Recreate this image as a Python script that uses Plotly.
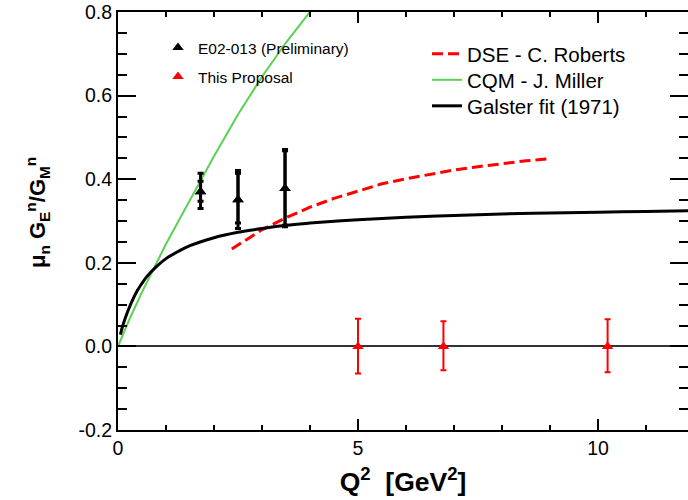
import plotly.graph_objects as go

# ---------------- data ----------------
galster_q2 = [0.05, 0.1, 0.2, 0.3, 0.4, 0.5, 0.6, 0.8, 1.0, 1.25, 1.5, 2.0, 2.5,
              3.0, 3.5, 4.0, 5.0, 6.0, 7.0, 8.0, 9.0, 10.0, 11.0, 12.0]
galster_val = [0.028, 0.05, 0.083, 0.110, 0.133, 0.151, 0.167, 0.191, 0.210, 0.227,
               0.241, 0.260, 0.273, 0.282, 0.290, 0.295, 0.303, 0.309, 0.313, 0.317,
               0.319, 0.321, 0.323, 0.325]

cqm_q2 = [0.0, 0.25, 0.5, 0.8, 1.0, 1.5, 2.0, 2.5, 3.0, 3.5, 4.0, 4.1]
cqm_val = [0.0, 0.068, 0.13, 0.2, 0.245, 0.35, 0.455, 0.555, 0.645, 0.727, 0.8, 0.815]

dse_q2 = [2.37, 2.75, 3.0, 3.5, 4.0, 4.5, 5.0, 5.5, 6.0, 6.5, 7.0, 7.5, 8.0, 8.5, 9.0]
dse_val = [0.233, 0.262, 0.279, 0.308, 0.333, 0.354, 0.372, 0.389, 0.401, 0.412,
           0.422, 0.430, 0.437, 0.444, 0.449]

e02_q2 = [1.72, 2.5, 3.48]
e02_val = [0.37, 0.351, 0.378]
e02_tot_up = [0.044, 0.07, 0.093]
e02_tot_dn = [0.040, 0.069, 0.092]
e02_stat_up = [0.025, 0.063, 0.09]
e02_stat_dn = [0.023, 0.056, 0.088]

prop_q2 = [5.0, 6.78, 10.2]
prop_val = [0.0, 0.0, 0.0]
prop_err_up = [0.066, 0.060, 0.065]
prop_err_dn = [0.065, 0.057, 0.062]

x_tickvals = [0, 5, 10]
x_ticktext = ["0", "5", "10"]
y_tickvals = [-0.2, 0.0, 0.2, 0.4, 0.6, 0.8]
y_ticktext = ["-0.2", "0.0", "0.2", "0.4", "0.6", "0.8"]

FONT = "Liberation Sans, Arial, Helvetica, sans-serif"

# plot area in page pixels
PX0, PX1, PY0, PY1 = 118, 688, 12, 430


def px(x):
    return (x - PX0) / (PX1 - PX0)


def py(y):
    return (PY1 - y) / (PY1 - PY0)


fig = go.Figure()

fig.add_trace(go.Scatter(x=dse_q2, y=dse_val, mode="lines", name="DSE - C. Roberts",
                         line=dict(color="#ff0000", width=3, dash="11px,5px"),
                         legend="legend3"))
fig.add_trace(go.Scatter(x=cqm_q2, y=cqm_val, mode="lines", name="CQM - J. Miller",
                         line=dict(color="#5bd152", width=2), legend="legend4"))
fig.add_trace(go.Scatter(x=galster_q2, y=galster_val, mode="lines", name="Galster fit (1971)",
                         line=dict(color="black", width=3, shape="spline"), legend="legend5"))

# E02-013 total errors
fig.add_trace(go.Scatter(x=e02_q2, y=e02_val, mode="markers", showlegend=False,
                         marker=dict(symbol="triangle-up", size=10, color="black"),
                         error_y=dict(type="data", symmetric=False, array=e02_tot_up,
                                      arrayminus=e02_tot_dn, color="black",
                                      thickness=3, width=3)))
# E02-013 statistical errors
fig.add_trace(go.Scatter(x=e02_q2, y=e02_val, mode="markers", name="E02-013 (Preliminary)",
                         legend="legend",
                         marker=dict(symbol="triangle-up", size=10, color="black"),
                         error_y=dict(type="data", symmetric=False, array=e02_stat_up,
                                      arrayminus=e02_stat_dn, color="black",
                                      thickness=3, width=3)))
fig.add_trace(go.Scatter(x=prop_q2, y=prop_val, mode="markers", name="This Proposal",
                         legend="legend2",
                         marker=dict(symbol="triangle-up", size=10, color="#ff0000"),
                         error_y=dict(type="data", symmetric=False, array=prop_err_up,
                                      arrayminus=prop_err_dn, color="#ff0000",
                                      thickness=2, width=3)))

small_leg = dict(xanchor="left", yanchor="middle", bgcolor="rgba(0,0,0,0)",
                 font=dict(family=FONT, size=15.5))
big_leg = dict(xanchor="left", yanchor="middle", bgcolor="rgba(0,0,0,0)",
               font=dict(family=FONT, size=20.5))

fig.update_layout(
    width=688, height=500,
    margin=dict(l=118, r=0, t=12, b=70, autoexpand=False),
    plot_bgcolor="white", paper_bgcolor="white",
    font=dict(family=FONT, color="black"),
    legend=dict(x=px(158), y=py(48), **small_leg),
    legend2=dict(x=px(158), y=py(77), **small_leg),
    legend3=dict(x=px(427), y=py(54), **big_leg),
    legend4=dict(x=px(427), y=py(80), **big_leg),
    legend5=dict(x=px(427), y=py(106), **big_leg),
)

fig.update_xaxes(
    range=[0, 11.875], showgrid=False, zeroline=False,
    showline=True, linewidth=2, linecolor="black", mirror="ticks",
    ticks="inside", ticklen=11, tickwidth=1.5, tickcolor="black",
    tickvals=x_tickvals, ticktext=x_ticktext, ticklabeloverflow="allow",
    tickfont=dict(family=FONT, size=19.5),
    minor=dict(ticks="inside", ticklen=5, tickwidth=1.5, tickcolor="black", dtick=1, tick0=0),
    title=dict(text="<b>Q<sup>2</sup>  [GeV<sup>2</sup>]</b>",
               font=dict(family=FONT, size=26.5), standoff=14),
    automargin=False,
)
fig.update_yaxes(
    range=[-0.2, 0.8], showgrid=False,
    zeroline=True, zerolinecolor="#333333", zerolinewidth=1.5,
    showline=True, linewidth=2, linecolor="black", mirror="ticks",
    ticks="inside", ticklen=18, tickwidth=1.5, tickcolor="black",
    tickvals=y_tickvals, ticktext=y_ticktext, ticklabeloverflow="allow",
    tickfont=dict(family=FONT, size=19.5),
    minor=dict(ticks="inside", ticklen=9, tickwidth=1.5, tickcolor="black", dtick=0.05, tick0=0),
    automargin=False,
)

fig.add_annotation(
    text="μ<sub>n</sub> G<sub>E</sub><sup>n</sup>/G<sub>M</sub><sup>n</sup>",
    xref="paper", yref="paper", x=px(37), y=py(213),
    xanchor="center", yanchor="middle", textangle=-90, showarrow=False,
    font=dict(family=FONT, size=22, weight="bold"),
)

fig.write_html("out.html", config={"displayModeBar": False},
               post_script="document.body.style.margin='0';")
